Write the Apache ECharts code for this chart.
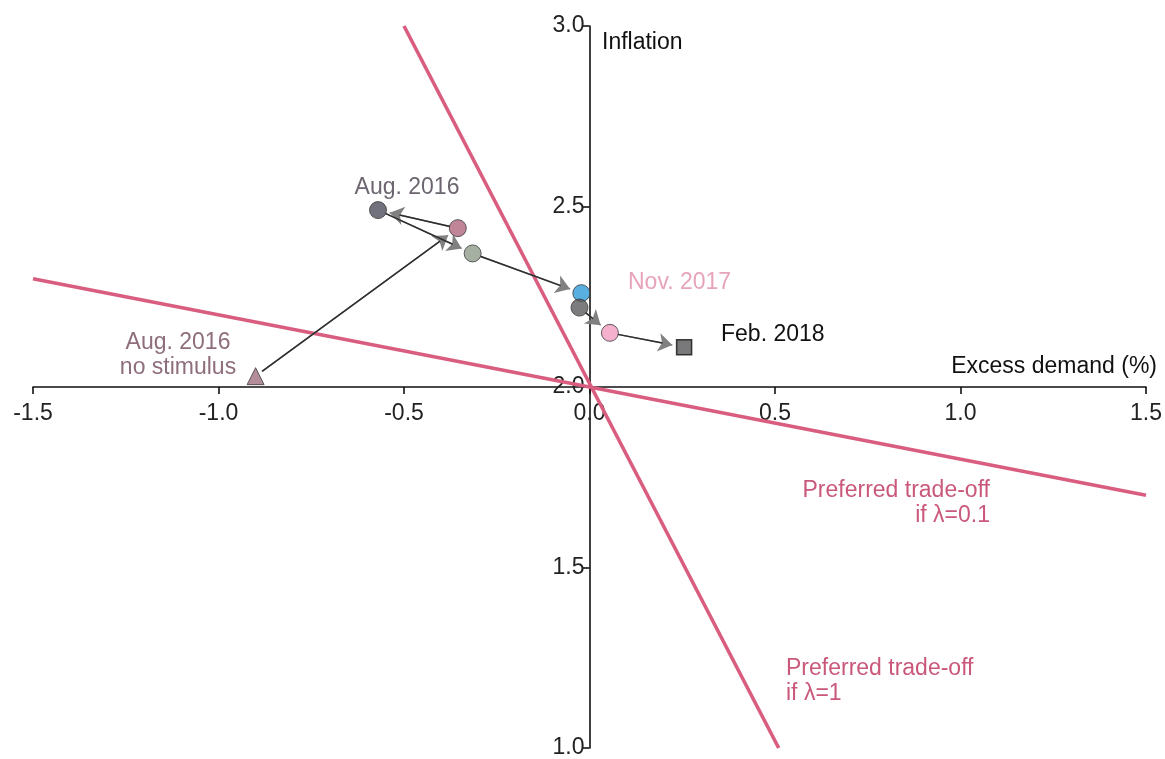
<!DOCTYPE html>
<html>
<head>
<meta charset="utf-8">
<script src="https://cdn.jsdelivr.net/npm/echarts@6/dist/echarts.min.js"></script>
<style>
html,body{margin:0;padding:0;background:#fff;}
#chart{width:1165px;height:759px;}
</style>
</head>
<body>
<div id="chart"></div>
<script>
// ---- data ----
const pointNames   = ['Aug. 2016 no stimulus', 'Aug. 2016', 'Stimulus', 'Step 3', 'Nov. 2017', 'Step 5', 'Step 6', 'Feb. 2018'];
const excessDemand = [-0.90, -0.57, -0.355, -0.315, -0.022, -0.027, 0.055, 0.255];
const inflation    = [ 2.03,  2.49,  2.44,  2.37,  2.26,  2.22, 2.15, 2.11];
const pointSymbols = ['triangle', 'circle', 'circle', 'circle', 'circle', 'circle', 'circle', 'rect'];
const pointColors  = ['#a0707f', '#4e4f5e', '#b0687e', '#8f9b8b', '#2f9bd8', '#5b5b5e', '#f29cc2', '#58585a'];
const arrowFrom = [0, 2, 1, 3, 5, 6];
const arrowTo   = [2, 1, 3, 4, 6, 7];

const lambda1X  = [-0.5, 0.51];
const lambda1Y  = [3.0, 1.0];
const lambda01X = [-1.5, 1.5];
const lambda01Y = [2.3, 1.7];

const xTicks = [-1.5, -1.0, -0.5, 0.0, 0.5, 1.0, 1.5];
const yTicks = [1.0, 1.5, 2.0, 2.5, 3.0];

// ---- chart ----
const FONT = '"Liberation Sans", Arial, Helvetica, sans-serif';
const FS = 23;
const PINK = '#d95d7f';
const GRID = {left: 33, right: 19, top: 26, bottom: 11};
const W = 1165, H = 759;
const plotW = W - GRID.left - GRID.right;
const plotH = H - GRID.top - GRID.bottom;
const xMin = xTicks[0], xMax = xTicks[xTicks.length - 1];
const yMin = yTicks[0], yMax = yTicks[yTicks.length - 1];
// axes cross at x = 0, inflation = 2.0
const xAxisOffset = -plotH * (2.0 - yMin) / (yMax - yMin);
const yAxisOffset = -plotW * (0 - xMin) / (xMax - xMin);

const chart = echarts.init(document.getElementById('chart'), null, {renderer: 'canvas'});

const scatterData = excessDemand.map((x, i) => ({
  name: pointNames[i],
  value: [x, inflation[i]],
  symbol: pointSymbols[i],
  symbolSize: pointSymbols[i] === 'rect' ? 15 : 17,
  itemStyle: {color: pointColors[i], borderColor: pointSymbols[i] === 'rect' ? '#111' : '#3a3a3a', borderWidth: pointSymbols[i] === 'rect' ? 1.5 : 1}
}));

const baseOption = {
  animation: false,
  backgroundColor: '#fff',
  grid: Object.assign({containLabel: false, outerBoundsMode: 'none'}, GRID),
  xAxis: {
    type: 'value', min: xMin, max: xMax, interval: 0.5, position: 'bottom', offset: xAxisOffset,
    axisLine: {onZero: false, lineStyle: {color: '#111', width: 1.6}},
    axisTick: {show: true, length: 7, inside: false, lineStyle: {color: '#111', width: 1.6}},
    axisLabel: {fontFamily: FONT, fontSize: FS, color: '#222', margin: 15, formatter: v => v.toFixed(1), hideOverlap: false},
    splitLine: {show: false}
  },
  yAxis: {
    type: 'value', min: yMin, max: yMax, interval: 0.5, position: 'left', offset: yAxisOffset,
    axisLine: {onZero: false, lineStyle: {color: '#111', width: 1.6}},
    axisTick: {show: true, length: 7, inside: false, lineStyle: {color: '#111', width: 1.6}},
    axisLabel: {fontFamily: FONT, fontSize: FS, color: '#222', margin: 5, formatter: v => v.toFixed(1), hideOverlap: false},
    splitLine: {show: false}
  },
  series: [
    {
      name: 'Preferred trade-off if λ=1', type: 'line', symbol: 'none', z: 3,
      data: lambda1X.map((x, i) => [x, lambda1Y[i]]),
      lineStyle: {color: PINK, width: 3.6}
    },
    {
      name: 'Preferred trade-off if λ=0.1', type: 'line', symbol: 'none', z: 3,
      data: lambda01X.map((x, i) => [x, lambda01Y[i]]),
      lineStyle: {color: PINK, width: 3.6}
    },
    {
      name: 'points', type: 'scatter', z: 6,
      data: scatterData
    }
  ]
};
chart.setOption(baseOption);

// arrows: shortened in pixel space so they stop at the markers
function shorten(i, j, startGap, endGap) {
  const p1 = chart.convertToPixel({gridIndex: 0}, [excessDemand[i], inflation[i]]);
  const p2 = chart.convertToPixel({gridIndex: 0}, [excessDemand[j], inflation[j]]);
  const dx = p2[0] - p1[0], dy = p2[1] - p1[1];
  const L = Math.sqrt(dx * dx + dy * dy);
  const ux = dx / L, uy = dy / L;
  const a = [p1[0] + ux * startGap, p1[1] + uy * startGap];
  const b = [p2[0] - ux * endGap, p2[1] - uy * endGap];
  return [chart.convertFromPixel({gridIndex: 0}, a), chart.convertFromPixel({gridIndex: 0}, b)];
}
const arrowHeads = arrowFrom.map((f, k) => ({coords: shorten(f, arrowTo[k], 8, 12)}));
const arrowShafts = arrowFrom.map((f, k) => ({coords: shorten(f, arrowTo[k], 8, 22)}));

function txt(text, x, y, color, align) {
  return {
    type: 'text', x: x, y: y, z: 10,
    style: {text: text, fill: color, font: FS + 'px ' + FONT, align: align, textAlign: align,
            verticalAlign: 'middle', textVerticalAlign: 'middle', lineHeight: 25}
  };
}

chart.setOption({
  series: [
    {}, {}, {},
    {
      name: 'arrowheads', type: 'lines', coordinateSystem: 'cartesian2d', z: 4,
      symbol: ['none', 'arrow'], symbolSize: 14,
      lineStyle: {color: '#808080', width: 1.5, opacity: 1},
      data: arrowHeads
    },
    {
      name: 'arrowshafts', type: 'lines', coordinateSystem: 'cartesian2d', z: 5,
      symbol: 'none',
      lineStyle: {color: '#2e2e2e', width: 1.5, opacity: 1},
      data: arrowShafts
    }
  ],
  graphic: [
    txt('Aug. 2016', 407, 188, '#6d6670', 'center'),
    txt('Aug. 2016\nno stimulus', 178, 355, '#8e6e7c', 'center'),
    txt('Nov. 2017', 628, 283, '#e6a3ba', 'left'),
    txt('Feb. 2018', 721, 335, '#111', 'left'),
    txt('Excess demand (%)', 1157, 367, '#111', 'right'),
    txt('Inflation', 602, 43, '#111', 'left'),
    txt('Preferred trade-off\nif λ=0.1', 990, 503, '#c9587a', 'right'),
    txt('Preferred trade-off\nif λ=1', 786, 681, '#c9587a', 'left')
  ]
});
</script>
</body>
</html>
